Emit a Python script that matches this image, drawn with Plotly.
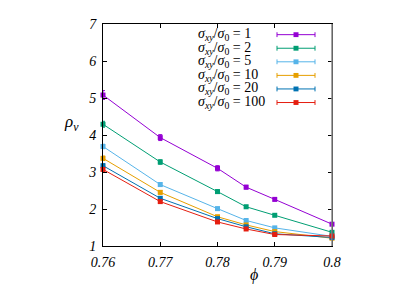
import plotly.graph_objects as go

phi = [0.76, 0.77, 0.78, 0.785, 0.79, 0.8]
ratios = ["1", "2", "5", "10", "20", "100"]
rho_1 = [5.08, 3.93, 3.10, 2.59, 2.26, 1.59]
rho_2 = [4.29, 3.27, 2.47, 2.06, 1.83, 1.37]
rho_5 = [3.69, 2.66, 2.01, 1.69, 1.49, 1.26]
rho_10 = [3.37, 2.45, 1.79, 1.57, 1.39, 1.21]
rho_20 = [3.17, 2.29, 1.74, 1.52, 1.33, 1.23]
rho_100 = [3.07, 2.20, 1.65, 1.46, 1.31, 1.27]
err_1 = [0.12, 0.08, 0.07, 0.05, 0.04, 0.04]
err_2 = [0.08, 0.06, 0.05, 0.04, 0.03, 0.03]
err_5 = [0.06, 0.05, 0.04, 0.03, 0.03, 0.02]
err_10 = [0.06, 0.05, 0.04, 0.03, 0.03, 0.02]
err_20 = [0.05, 0.04, 0.03, 0.03, 0.02, 0.02]
err_100 = [0.05, 0.04, 0.03, 0.03, 0.02, 0.02]

series = [rho_1, rho_2, rho_5, rho_10, rho_20, rho_100]
errors = [err_1, err_2, err_5, err_10, err_20, err_100]
colors = ["#9400D3", "#009E73", "#56B4E9", "#E69F00", "#0072B2", "#E51E10"]

# page body has an 8px margin, so figure origin sits at (8, 8) in the window
OFF = 8
W, H = 415 - 2 * OFF, 292 - 2 * OFF
PL, PT, PW, PH = 103, 17, 229, 229  # plot area in window pixels
L, T = PL - OFF, PT - OFF
R = W - L - PW
B = H - T - PH

fig = go.Figure()
for ys, es, c, r in zip(series, errors, colors, ratios):
    fig.add_trace(go.Scatter(
        x=phi, y=ys, mode="lines+markers",
        line=dict(color=c, width=1),
        marker=dict(symbol="square", size=5, color=c),
        error_y=dict(type="data", array=es, color=c, thickness=1, width=2),
        cliponaxis=False, showlegend=False, name=r,
    ))

serif = "Liberation Serif"

def px_x(p):
    return (p - PL) / PW

def px_y(p):
    return (PT + PH - p) / PH

annotations = []
shapes = []
for i, (c, r) in enumerate(zip(colors, ratios)):
    yy = 28 + 14 * i
    annotations.append(dict(
        x=px_x(196), y=px_y(yy), xref="paper", yref="paper",
        xanchor="left", yanchor="middle", showarrow=False,
        text=f"<i>σ</i><sub><i>xy</i></sub>/<i>σ</i><sub>0</sub> = {r}",
        font=dict(family=serif, size=14, color="black"),
    ))
    shapes.append(dict(type="line", xref="paper", yref="paper",
                       x0=px_x(277), x1=px_x(315), y0=px_y(yy), y1=px_y(yy),
                       line=dict(color=c, width=1)))
    for xc in (277, 315):
        shapes.append(dict(type="line", xref="paper", yref="paper",
                           x0=px_x(xc), x1=px_x(xc), y0=px_y(yy - 2.5), y1=px_y(yy + 2.5),
                           line=dict(color=c, width=1)))
    shapes.append(dict(type="rect", xref="paper", yref="paper",
                       x0=px_x(293.5), x1=px_x(298.5), y0=px_y(yy - 2.5), y1=px_y(yy + 2.5),
                       line=dict(width=0), fillcolor=c))

shapes.append(dict(type="line", xref="paper", yref="paper", x0=1, x1=1, y0=0, y1=1,
                   line=dict(color="#888888", width=1.5)))

annotations.append(dict(x=px_x(71), y=px_y(119), xref="paper", yref="paper",
                        xanchor="center", yanchor="middle",
                        showarrow=False, text="<i>ρ</i><sub><i>v</i></sub>",
                        font=dict(family=serif, size=17, color="black")))
annotations.append(dict(x=px_x(254), y=px_y(276), xref="paper", yref="paper",
                        xanchor="center", yanchor="middle",
                        showarrow=False, text="<i>ϕ</i>",
                        font=dict(family=serif, size=16, color="black")))

axis_common = dict(
    showgrid=False, zeroline=False, showline=True, linecolor="black", linewidth=1,
    mirror="allticks", ticks="inside", ticklen=4, tickcolor="black",
    tickfont=dict(family=serif, size=14, color="black", style="italic"),
)

fig.update_layout(
    width=W, height=H,
    margin=dict(l=L, r=R, t=T, b=B),
    paper_bgcolor="white", plot_bgcolor="white",
    xaxis=dict(range=[0.76, 0.8], tickvals=[0.76, 0.77, 0.78, 0.79, 0.8],
               ticktext=["0.76", "0.77", "0.78", "0.79", "0.8"],
               ticklabelstandoff=3, **axis_common),
    yaxis=dict(range=[1, 7], tickvals=[1, 2, 3, 4, 5, 6, 7],
               ticklabelstandoff=3, **axis_common),
    annotations=annotations, shapes=shapes, showlegend=False,
)

fig.write_html("out.html")
